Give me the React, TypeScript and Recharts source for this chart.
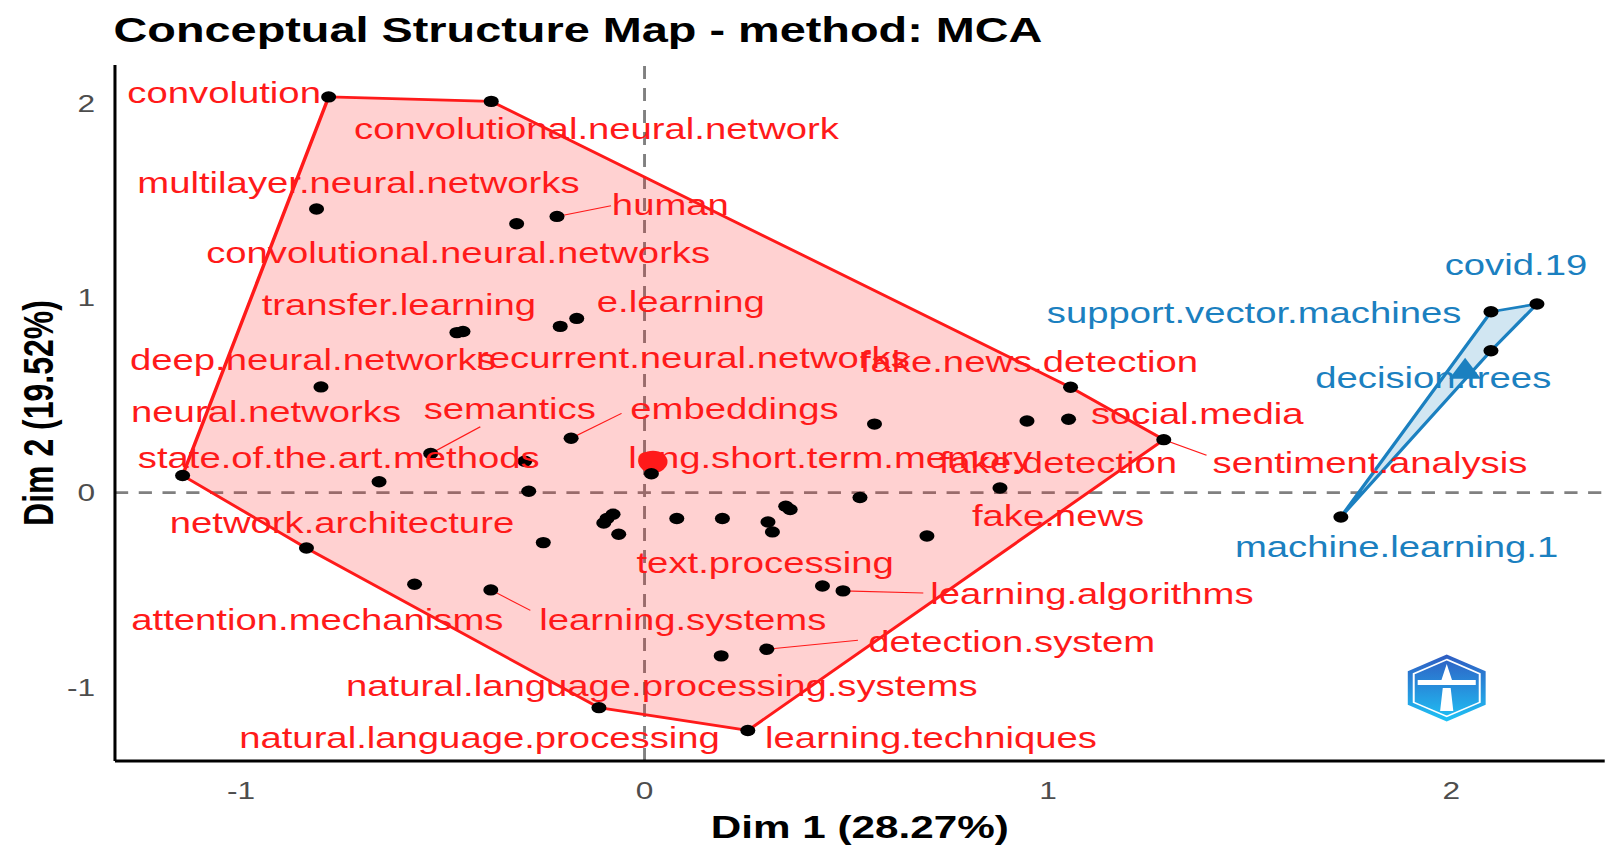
import { ScatterChart, Scatter, XAxis, YAxis, ReferenceLine } from 'recharts'

// the reference picture is horizontally stretched, so the chart is drawn narrower and scaled in x
const SX = 1.32
const W = 1228
const H = 857
const FONT = '"Liberation Sans", Arial, sans-serif'
const RED = '#ff1a1a'
const BLUE = '#1b80c0'

const xTicks = [-1, 0, 1, 2]
const yTicks = [-1, 0, 1, 2]

// cluster 1 words (Dim 1, Dim 2)
const redPoints = [
  { x: -0.783, y: 2.033 }, { x: -0.38, y: 2.01 }, { x: -0.813, y: 1.457 }, { x: -0.317, y: 1.381 },
  { x: -0.217, y: 1.419 }, { x: -0.465, y: 0.822 }, { x: -0.45, y: 0.828 }, { x: -0.209, y: 0.854 },
  { x: -0.168, y: 0.895 }, { x: -0.802, y: 0.543 }, { x: -0.53, y: 0.201 }, { x: -0.182, y: 0.279 },
  { x: -0.297, y: 0.161 }, { x: -0.658, y: 0.056 }, { x: -1.145, y: 0.088 }, { x: -0.287, y: 0.007 },
  { x: 0.017, y: 0.097 }, { x: 0.57, y: 0.352 }, { x: 1.056, y: 0.541 }, { x: 0.948, y: 0.368 },
  { x: 1.051, y: 0.377 }, { x: 1.287, y: 0.272 }, { x: 0.881, y: 0.024 }, { x: 0.534, y: -0.025 },
  { x: 0.7, y: -0.223 }, { x: 0.35, y: -0.07 }, { x: 0.361, y: -0.087 }, { x: -0.078, y: -0.111 },
  { x: -0.093, y: -0.133 }, { x: -0.101, y: -0.156 }, { x: -0.064, y: -0.214 }, { x: -0.251, y: -0.257 },
  { x: 0.08, y: -0.133 }, { x: 0.193, y: -0.133 }, { x: 0.306, y: -0.151 }, { x: 0.317, y: -0.202 },
  { x: -0.838, y: -0.285 }, { x: -0.57, y: -0.471 }, { x: -0.381, y: -0.5 }, { x: 0.441, y: -0.48 },
  { x: 0.492, y: -0.505 }, { x: 0.303, y: -0.805 }, { x: 0.19, y: -0.839 }, { x: -0.113, y: -1.105 },
  { x: 0.256, y: -1.222 },
]

const redHull = [
  { x: -0.783, y: 2.033 }, { x: -0.38, y: 2.01 }, { x: 1.056, y: 0.541 }, { x: 1.287, y: 0.272 },
  { x: 0.256, y: -1.222 }, { x: -0.113, y: -1.105 }, { x: -0.838, y: -0.285 }, { x: -1.145, y: 0.088 },
]

const redCentroid = [{ x: 0.021, y: 0.158 }]

// cluster 2 words
const bluePoints = [
  { x: 1.726, y: -0.125 }, { x: 2.098, y: 0.929 }, { x: 2.212, y: 0.969 }, { x: 2.098, y: 0.729 },
]
const blueHull = [
  { x: 1.726, y: -0.125 }, { x: 2.098, y: 0.929 }, { x: 2.212, y: 0.969 }, { x: 2.098, y: 0.729 },
]
const blueCentroid = [{ x: 2.034, y: 0.626 }]

// label positions (centre, baseline) as placed in the picture
const redLabels = [
  { name: 'convolution', x: -1.042, y: 2.001 },
  { name: 'convolutional.neural.network', x: -0.119, y: 1.815 },
  { name: 'multilayer.neural.networks', x: -0.709, y: 1.538 },
  { name: 'human', x: 0.064, y: 1.426 },
  { name: 'convolutional.neural.networks', x: -0.462, y: 1.178 },
  { name: 'transfer.learning', x: -0.609, y: 0.912 },
  { name: 'e.learning', x: 0.09, y: 0.929 },
  { name: 'deep.neural.networks', x: -0.822, y: 0.629 },
  { name: 'recurrent.neural.networks', x: 0.12, y: 0.64 },
  { name: 'fake.news.detection', x: 0.953, y: 0.621 },
  { name: 'neural.networks', x: -0.938, y: 0.363 },
  { name: 'semantics', x: -0.334, y: 0.376 },
  { name: 'embeddings', x: 0.223, y: 0.376 },
  { name: 'social.media', x: 1.37, y: 0.352 },
  { name: 'state.of.the.art.methods', x: -0.758, y: 0.124 },
  { name: 'long.short.term.memory', x: 0.46, y: 0.124 },
  { name: 'fake.detection', x: 1.025, y: 0.101 },
  { name: 'sentiment.analysis', x: 1.798, y: 0.101 },
  { name: 'network.architecture', x: -0.75, y: -0.207 },
  { name: 'fake.news', x: 1.025, y: -0.173 },
  { name: 'text.processing', x: 0.299, y: -0.413 },
  { name: 'learning.algorithms', x: 1.109, y: -0.57 },
  { name: 'attention.mechanisms', x: -0.811, y: -0.704 },
  { name: 'learning.systems', x: 0.095, y: -0.707 },
  { name: 'detection.system', x: 0.91, y: -0.819 },
  { name: 'natural.language.processing.systems', x: 0.043, y: -1.047 },
  { name: 'natural.language.processing', x: -0.409, y: -1.314 },
  { name: 'learning.techniques', x: 0.71, y: -1.314 },
]

const blueLabels = [
  { name: 'covid.19', x: 2.16, y: 1.118 },
  { name: 'support.vector.machines', x: 1.511, y: 0.869 },
  { name: 'decision.trees', x: 1.955, y: 0.535 },
  { name: 'machine.learning.1', x: 1.864, y: -0.331 },
]

// repel segments: word point -> label
const segments = [
  [{ x: -0.217, y: 1.419 }, { x: -0.083, y: 1.474 }],
  [{ x: -0.53, y: 0.201 }, { x: -0.407, y: 0.338 }],
  [{ x: -0.182, y: 0.279 }, { x: -0.057, y: 0.407 }],
  [{ x: 1.287, y: 0.272 }, { x: 1.393, y: 0.192 }],
  [{ x: 0.492, y: -0.505 }, { x: 0.691, y: -0.516 }],
  [{ x: -0.381, y: -0.5 }, { x: -0.283, y: -0.605 }],
  [{ x: 0.303, y: -0.805 }, { x: 0.529, y: -0.759 }],
]

const hullLine = (color: string) => (p: any) => {
  const pts = p.points || []
  if (!pts.length) return <g />
  const d = pts.map((q: any, i: number) => `${i ? 'L' : 'M'}${q.x},${q.y}`).join(' ') + ' Z'
  return <path d={d} fill={color} fillOpacity={0.2} stroke={color} strokeWidth={2.7} strokeLinejoin="round" />
}

const dot = (p: any) => <circle cx={p.cx} cy={p.cy} r={5.7} fill="#000" />

const labelShape = (color: string) => (p: any) => (
  <text x={p.cx} y={p.cy} textAnchor="middle" fill={color} fontSize={29} fontFamily={FONT}>
    {p.payload.name}
  </text>
)

export default function App() {
  return (
    <div style={{ position: 'fixed', left: 0, top: 0, width: 1622, height: 857, overflow: 'hidden', background: '#fff' }}>
      <div style={{ position: 'absolute', left: 0, top: 0, width: W, height: H, transform: `scaleX(${SX})`, transformOrigin: '0 0' }}>
        <ScatterChart width={W} height={H} margin={{ top: 65, right: 12.3, bottom: 46, left: 27.1 }}>
          <XAxis
            type="number"
            dataKey="x"
            domain={[-1.3126, 2.38]}
            ticks={xTicks}
            allowDataOverflow
            height={50}
            tickSize={0}
            tickMargin={21}
            axisLine={{ stroke: '#000', strokeWidth: 3 }}
            tick={{ fill: '#4d4d4d', fontSize: 24, fontFamily: FONT }}
          />
          <YAxis
            type="number"
            dataKey="y"
            domain={[-1.379, 2.197]}
            ticks={yTicks}
            allowDataOverflow
            width={60}
            tickSize={0}
            tickMargin={15}
            axisLine={{ stroke: '#000', strokeWidth: 2.3 }}
            tick={{ fill: '#4d4d4d', fontSize: 24, fontFamily: FONT }}
          />
          <ReferenceLine x={0} stroke="#808080" strokeWidth={2.2} strokeDasharray="13 9" />
          <ReferenceLine y={0} stroke="#808080" strokeWidth={2.6} strokeDasharray="10 8" />
          <Scatter data={redHull} line={hullLine(RED)} lineType="joint" shape={() => <g />} isAnimationActive={false} />
          <Scatter data={blueHull} line={hullLine(BLUE)} lineType="joint" shape={() => <g />} isAnimationActive={false} />
          <Scatter
            data={redCentroid}
            shape={(p: any) => <circle cx={p.cx} cy={p.cy} r={11} fill={RED} />}
            isAnimationActive={false}
          />
          <Scatter
            data={blueCentroid}
            shape={(p: any) => (
              <polygon points={`${p.cx},${p.cy - 13} ${p.cx - 12},${p.cy + 8} ${p.cx + 12},${p.cy + 8}`} fill={BLUE} />
            )}
            isAnimationActive={false}
          />
          {segments.map((s, i) => (
            <ReferenceLine key={i} segment={s} stroke={RED} strokeWidth={1.1} />
          ))}
          <Scatter data={redPoints} shape={dot} isAnimationActive={false} />
          <Scatter data={bluePoints} shape={dot} isAnimationActive={false} />
          <Scatter data={redLabels} shape={labelShape(RED)} isAnimationActive={false} />
          <Scatter data={blueLabels} shape={labelShape(BLUE)} isAnimationActive={false} />
        </ScatterChart>
        <svg width={W} height={H} style={{ position: 'absolute', left: 0, top: 0, pointerEvents: 'none' }}>
          <defs>
            <linearGradient id="logoGrad" x1="0" y1="0" x2="0" y2="1">
              <stop offset="0" stopColor="#2f5cc2" />
              <stop offset="1" stopColor="#1fc2f5" />
            </linearGradient>
          </defs>
          <text x={86} y={42} fontSize={35.5} fontWeight="bold" fontFamily={FONT} fill="#000">
            Conceptual Structure Map - method: MCA
          </text>
          <text x={651.4} y={838} textAnchor="middle" fontSize={32} fontWeight="bold" fontFamily={FONT} fill="#000">
            Dim 1 (28.27%)
          </text>
          <text
            transform="translate(40,413) rotate(-90)"
            textAnchor="middle"
            fontSize={32}
            fontWeight="bold"
            fontFamily={FONT}
            fill="#000"
          >
            Dim 2 (19.52%)
          </text>
          <g>
            <polygon
              points="1096,654.5 1125.5,671.3 1125.5,704.8 1096,721.5 1066.5,704.8 1066.5,671.3"
              fill="url(#logoGrad)"
            />
            <polygon
              points="1096,659.5 1121,673.8 1121,702.3 1096,716.5 1071,702.3 1071,673.8"
              fill="none"
              stroke="#fff"
              strokeWidth={1.5}
            />
            <rect x={1074} y={680} width={44} height={5} fill="#fff" />
            <path d="M1096,664 L1100,680 L1092,680 Z M1093,688 L1099,688 L1101,711 L1091,711 Z" fill="#fff" />
          </g>
        </svg>
      </div>
    </div>
  )
}
